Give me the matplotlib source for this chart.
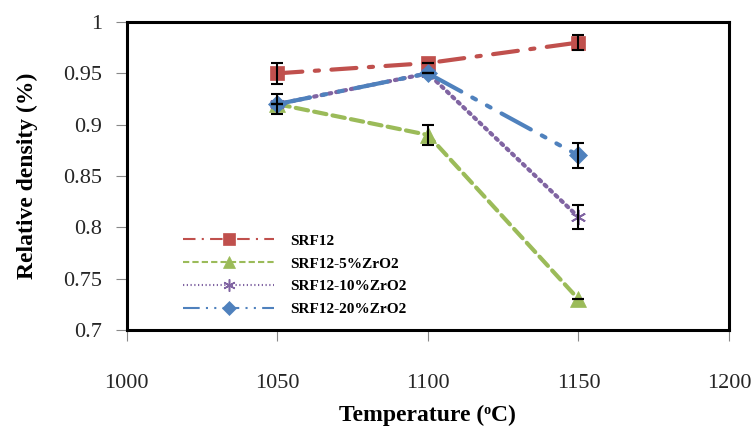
import matplotlib
matplotlib.use("Agg")
import matplotlib.pyplot as plt

temps = [1050, 1100, 1150]
srf12 = [0.95, 0.96, 0.98]
zr5 = [0.92, 0.89, 0.73]
zr10 = [0.92, 0.95, 0.81]
zr20 = [0.92, 0.95, 0.87]
err_srf12 = [0.010, 0.0, 0.007]
err_zr5 = [0.0, 0.010, 0.0]
err_zr10 = [0.0, 0.0, 0.012]
err_zr20 = [0.010, 0.0, 0.012]
labels = ["SRF12", "SRF12-5%ZrO2", "SRF12-10%ZrO2", "SRF12-20%ZrO2"]

plt.rcParams['font.family'] = ['Liberation Serif', 'DejaVu Serif']

fig = plt.figure(figsize=(7.55, 4.28), dpi=100)
ax = fig.add_axes([0.168, 0.229, 0.7976, 0.7196])

asterisk = (6, 2, 0)
series = [
    (srf12, err_srf12, '#C0504D', 's', (0, (6, 3, 1, 3)), 10, labels[0]),
    (zr5, err_zr5, '#9BBB59', '^', (0, (3, 1.5)), 11, labels[1]),
    (zr10, err_zr10, '#8064A2', asterisk, (0, (0.6, 1.2)), 11, labels[2]),
    (zr20, err_zr20, '#4F81BD', 'D', (0, (8, 3, 1, 3, 1, 3)), 9, labels[3]),
]

for vals, err, col, mk, ls, ms, lab in series:
    ax.plot(temps, vals, color=col, linestyle=ls, linewidth=3,
            marker=mk, markersize=ms, markeredgecolor=col,
            markeredgewidth=1.3 if mk == asterisk else 0.5,
            dash_capstyle='round', label=lab, zorder=3)
    ax.errorbar(temps, vals, yerr=err, fmt='none', ecolor='black',
                elinewidth=1.5, capsize=4, capthick=1.5, zorder=4)

ax.set_xlim(1000, 1200)
ax.set_ylim(0.7, 1.0)
ax.set_xticks([1000, 1050, 1100, 1150, 1200])
ax.set_yticks([0.7, 0.75, 0.8, 0.85, 0.9, 0.95, 1.0])
ax.set_yticklabels(['0.7', '0.75', '0.8', '0.85', '0.9', '0.95', '1'])

for sp in ax.spines.values():
    sp.set_linewidth(2.2)
    sp.set_color('black')

ax.tick_params(axis='both', direction='out', length=8, width=0.8,
               color='#888888', labelsize=16, labelcolor='#262626')
ax.tick_params(axis='x', pad=24)
ax.tick_params(axis='y', pad=10)

ax.set_xlabel('Temperature (ᵒC)', fontsize=17, fontweight='bold', labelpad=8)
ax.set_ylabel('Relative density (%)', fontsize=17, fontweight='bold', labelpad=18)

leg_handles = []
for vals, err, col, mk, ls, ms, lab in series:
    h, = ax.plot([], [], color=col, linestyle=ls, linewidth=1.5, marker=mk,
                 markersize=ms * 0.8, markeredgecolor=col,
                 markeredgewidth=1.1 if mk == asterisk else 0.5)
    leg_handles.append(h)
ax.legend(leg_handles, labels, loc='lower left',
          bbox_to_anchor=(0.07, 0.0), frameon=False,
          prop={'weight': 'bold', 'size': 11}, handlelength=6.0,
          labelspacing=0.6, handletextpad=1.0)

fig.savefig('out.png', dpi=100)
